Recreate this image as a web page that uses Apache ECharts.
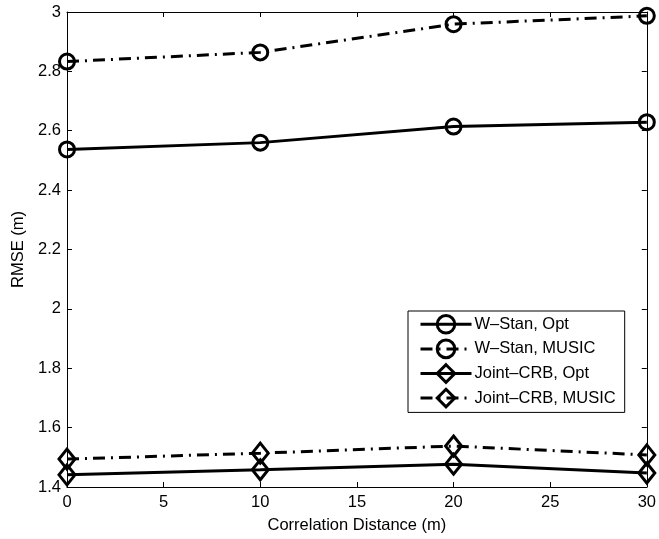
<!DOCTYPE html>
<html>
<head>
<meta charset="utf-8">
<script src="https://cdn.jsdelivr.net/npm/echarts@6/dist/echarts.min.js"></script>
<style>
html,body{margin:0;padding:0;background:#fff;}
#chart{width:659px;height:539px;}
</style>
</head>
<body>
<div id="chart"></div>
<script>
const distances = [0, 10, 20, 30];
const wStanOpt = [2.537, 2.560, 2.614, 2.629];
const wStanMusic = [2.833, 2.864, 2.959, 2.987];
const jointCrbOpt = [1.441, 1.458, 1.477, 1.447];
const jointCrbMusic = [1.494, 1.514, 1.538, 1.508];
const seriesNames = ['W\u2013Stan, Opt', 'W\u2013Stan, MUSIC', 'Joint\u2013CRB, Opt', 'Joint\u2013CRB, MUSIC'];
const xTitle = 'Correlation Distance (m)';
const yTitle = 'RMSE (m)';

const FONT = 'Liberation Sans, Arial, Helvetica, sans-serif';
const FS = 16.5;
const chart = echarts.init(document.getElementById('chart'), null, {renderer: 'canvas'});

function pairs(vals){ return distances.map((d,i)=>[d, vals[i]]); }
const dashDot = [12, 6, 2, 6];
function mk(name, vals, dashed, symbol, size){
  return {
    name: name, type: 'line', data: pairs(vals),
    symbol: symbol, symbolSize: size, showSymbol: true,
    lineStyle: {color: '#000', width: 3, type: dashed ? dashDot : 'solid', cap: 'butt'},
    itemStyle: {color: 'rgba(0,0,0,0)', borderColor: '#000', borderWidth: 3},
    emphasis: {disabled: true},
    animation: false, clip: false
  };
}

const axisCommon = {
  axisLine: {show: true, onZero: false, lineStyle: {color: '#000', width: 1}},
  axisTick: {show: true, inside: true, length: 5, lineStyle: {color: '#000'}},
  splitLine: {show: false}
};

chart.setOption({
  backgroundColor: '#fff',
  animation: false,
  grid: {left: 67, top: 12, right: 11, bottom: 50, containLabel: false},
  legend: {
    orient: 'vertical', left: 408, top: 311,
    data: seriesNames,
    itemWidth: 51, itemHeight: 22, itemGap: 4,
    padding: [3, 9, 4, 11],
    borderColor: '#000', borderWidth: 1, backgroundColor: '#fff',
    lineStyle: {width: 3},
    itemStyle: {borderWidth: 3},
    textStyle: {fontFamily: FONT, fontSize: FS, color: '#000', padding: [0,0,0,-2]},
    selectedMode: false
  },
  xAxis: [
    Object.assign({}, axisCommon, {
      type: 'value', min: 0, max: 30, interval: 5, position: 'bottom',
      name: xTitle, nameLocation: 'middle', nameGap: 30,
      nameTextStyle: {fontFamily: FONT, fontSize: FS, color: '#000'},
      axisLabel: {fontFamily: FONT, fontSize: FS, color: '#000', margin: 7}
    }),
    Object.assign({}, axisCommon, {
      type: 'value', min: 0, max: 30, interval: 5, position: 'top',
      axisLabel: {show: false}
    })
  ],
  yAxis: [
    Object.assign({}, axisCommon, {
      type: 'value', min: 1.4, max: 3, interval: 0.2, position: 'left',
      name: yTitle, nameLocation: 'middle', nameGap: 37,
      nameTextStyle: {fontFamily: FONT, fontSize: FS, color: '#000'},
      axisLabel: {fontFamily: FONT, fontSize: FS, color: '#000', margin: 6,
        formatter: v => String(Math.round(v*10)/10)}
    }),
    Object.assign({}, axisCommon, {
      type: 'value', min: 1.4, max: 3, interval: 0.2, position: 'right',
      axisLabel: {show: false}
    })
  ],
  series: [
    mk(seriesNames[0], wStanOpt, false, 'circle', 15),
    mk(seriesNames[1], wStanMusic, true, 'circle', 15),
    mk(seriesNames[2], jointCrbOpt, false, 'diamond', [16, 20]),
    mk(seriesNames[3], jointCrbMusic, true, 'diamond', [16, 20])
  ]
});
</script>
</body>
</html>
